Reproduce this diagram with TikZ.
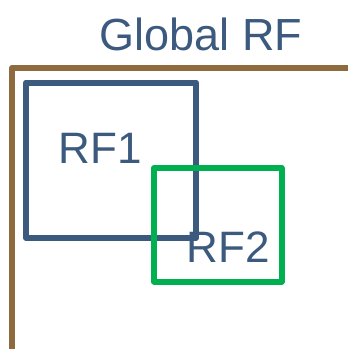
\documentclass[tikz,border=0pt]{standalone}
\usepackage{fontspec}
\setmainfont{Liberation Sans}
\definecolor{rfblue}{RGB}{59,90,126}
\definecolor{rfbrown}{RGB}{142,107,62}
\definecolor{rfgreen}{RGB}{0,176,80}
\tikzset{
  lbl/.style={text=rfblue, anchor=base, inner sep=0pt, font=\fontsize{44}{50}\selectfont},
  boxline/.style={line width=6pt, line join=round}
}
\begin{document}
\begin{tikzpicture}[x=1pt,y=-1pt]
\useasboundingbox (0,0) rectangle (348,349);
\coordinate (gb) at (12,352);
\coordinate (gc) at (12,68);
\coordinate (ge) at (351,68);
\draw[boxline, draw=rfbrown] (gb) -- (gc) -- (ge);
\draw[boxline, draw=rfblue] (26,82.5) rectangle (196,238);
\draw[boxline, draw=rfgreen] (154,168) rectangle (281.5,281.5);
\node[lbl, font=\fontsize{45}{52}\selectfont] (global) at (201,50) {Global RF};
\node[lbl] (rf1) at (100,163) {RF1};
\node[lbl] (rf2) at (228.5,262) {RF2};
\end{tikzpicture}
\end{document}
